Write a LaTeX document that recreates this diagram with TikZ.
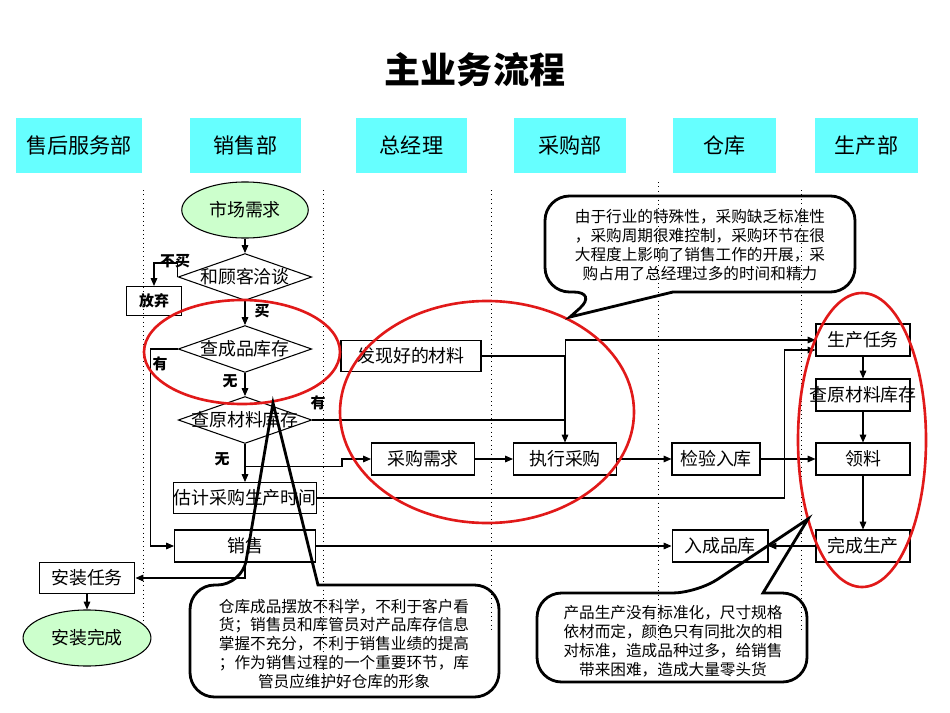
\documentclass[tikz,border=0pt]{standalone}
\usepackage{fontspec}
\setmainfont{Noto Sans CJK SC}
\usepackage{tikz}
\usetikzlibrary{shapes.geometric, arrows.meta, calc, positioning}
\usepackage{xcolor}
\definecolor{ciano}{RGB}{102,255,255}
\definecolor{verdino}{RGB}{204,255,204}
\definecolor{rosso}{RGB}{225,25,25}

\begin{document}
\begin{tikzpicture}[x=0.02cm, y=-0.02cm,
    testo/.style={font=\fontsize{10.2}{12}\selectfont},
    reparto/.style={fill=ciano, minimum height=31.3pt, inner sep=0pt, font=\fontsize{12}{14}\selectfont},
    scatola/.style={draw, line width=0.6pt, minimum width=53.5pt, minimum height=18.2pt, inner sep=0pt, testo},
    rombo/.style={draw, line width=0.6pt, diamond, minimum width=76pt, minimum height=26.7pt, inner sep=0pt, testo},
    ovale/.style={draw, line width=0.6pt, ellipse, fill=verdino, minimum width=72pt, minimum height=31.9pt, inner sep=0pt, testo},
    etich/.style={font=\fontsize{8.5}{10}\selectfont\bfseries, inner sep=0pt},
    freccia/.style={-{Triangle[length=4.5pt,width=3.8pt]}, line width=0.6pt},
    fumetto/.style={line width=1.6pt, rounded corners=14pt},
    nota/.style={align=center, font=\fontsize{8.9}{10.8}\selectfont, inner sep=0pt},
    cerchio/.style={draw=rosso, line width=1.5pt}]
    \useasboundingbox (0,0) rectangle (950,713);
    % Parametri (colonne)
    \pgfmathsetmacro{\xv}{245}
    \pgfmathsetmacro{\xp}{863}
    % Titolo e reparti
    \node[font=\fontsize{20.5}{24}\selectfont\bfseries] (titolo) at (475,70) {主业务流程};
    \node[reparto, minimum width=71.7pt] (h1) at (79,145.5) {售后服务部};
    \node[reparto, minimum width=63.2pt] (h2) at (245.5,145.5) {销售部};
    \node[reparto, minimum width=63.2pt] (h3) at (411.5,145.5) {总经理};
    \node[reparto, minimum width=63.7pt] (h4) at (570,145.5) {采购部};
    \node[reparto, minimum width=58.6pt] (h5) at (724.5,145.5) {仓库};
    \node[reparto, minimum width=58.6pt] (h6) at (866.5,145.5) {生产部};
    % Corsie
    \foreach \x/\ya/\yb in {143/190/623, 323/190/690, 491/190/630, 658/182/640, 801/190/630} {
        \draw[dotted, line width=0.5pt] (\x,\ya) -- (\x,\yb);
    }
    % Vendite
    \node[ovale] (shichang) at (\xv,210) {市场需求};
    \node[rombo] (qiatan) at (\xv,277) {\makebox[0pt]{和顾客洽谈}};
    \node[scatola, minimum width=31.3pt, minimum height=16.5pt, font=\fontsize{8.5}{10}\selectfont\bfseries] (fangqi) at (154,301) {放弃};
    \node[rombo] (chacp) at (\xv,349) {\makebox[0pt]{查成品库存}};
    \node[rombo] (chayl) at (\xv,420) {\makebox[0pt]{查原材料库存}};
    \node[scatola, minimum width=80.2pt, minimum height=17.6pt] (guji) at (\xv,498) {估计采购生产时间};
    \node[scatola, minimum width=80.2pt] (xiaoshou) at (\xv,546) {销售};
    % Assistenza
    \node[scatola, minimum width=54.6pt, minimum height=17.6pt] (anzhuang) at (87,578) {安装任务};
    \node[ovale, minimum width=72.8pt] (wancheng) at (87,638) {安装完成};
    % Direzione, acquisti, magazzino
    \node[scatola, minimum width=79.7pt, minimum height=17.6pt] (faxian) at (411,356) {发现好的材料};
    \node[scatola, minimum width=58.6pt] (xuqiu) at (423,459) {采购需求};
    \node[scatola, minimum width=58.6pt] (zhixing) at (565,459) {执行采购};
    \node[scatola, minimum width=50.1pt] (jianyan) at (716,459) {检验入库};
    \node[scatola, minimum width=54.6pt] (rucp) at (720,546) {入成品库};
    % Produzione
    \node[scatola] (renwu) at (\xp,340) {生产任务};
    \node[scatola] (chayl2) at (\xp,395) {\makebox[0pt]{查原材料库存}};
    \node[scatola] (lingliao) at (\xp,459) {领料};
    \node[scatola] (wansc) at (\xp,546) {完成生产};
    % Etichette
    \node[etich] (lbm) at (175,261) {不买};
    \node[etich] (lm) at (262,311) {买};
    \node[etich] (ly1) at (160,364) {有};
    \node[etich] (lw1) at (230,381) {无};
    \node[etich] (ly2) at (318,403) {有};
    \node[etich] (lw2) at (222,459) {无};
    % Frecce
    \draw[freccia] (shichang.south) -- (qiatan.north);
    \draw[freccia] (qiatan.west) -- ++(0,-14) -| (fangqi.north);
    \draw[freccia] (qiatan.south) -- (chacp.north);
    \draw[freccia] (chacp.west) -- ++(-27,0) |- (xiaoshou.west);
    \draw[freccia] (chacp.south) -- (chayl.north);
    \draw[freccia] (chayl.east) -- ++(253.5,0) |- (renwu.west);
    \draw[freccia] (faxian.east) -| (zhixing.north);
    \draw[freccia] (chayl.south) -- (guji.north);
    \draw[freccia] ($(chayl.south)!0.58!(guji.north)$) -- ++(97,0) |- (xuqiu.west);
    \draw[freccia] (xuqiu) -- (zhixing);
    \draw[freccia] (zhixing) -- (jianyan);
    \draw[freccia] (jianyan) -- (lingliao);
    \draw[freccia] (guji.east) -- ++(467.5,0) |- ([yshift=-5.7pt]renwu.west);
    \draw[freccia] (renwu) -- (chayl2);
    \draw[freccia] (chayl2) -- (lingliao);
    \draw[freccia] (lingliao) -- (wansc);
    \draw[freccia] (wansc) -- (rucp);
    \draw[freccia] (xiaoshou.east) -- (rucp.west);
    \draw[freccia] (xiaoshou.south) |- (anzhuang.east);
    \draw[freccia] (anzhuang) -- (wancheng);
    % Ellissi rosse
    \draw[cerchio] (242,352) ellipse [x radius=98, y radius=52];
    \draw[cerchio] (487,412) ellipse [x radius=147, y radius=111];
    \draw[cerchio] (862,440) ellipse [x radius=64, y radius=147];
    % Fumetti
    \draw[fumetto] (673,292) -- (855,292) -- (855,196) -- (545,196) -- (545,292) -- (598,292) [sharp corners] -- (570,317) -- cycle;
    \node[nota] (nota1) at (700,245) {由于行业的特殊性，采购缺乏标准性\\，采购周期很难控制，采购环节在很\\大程度上影响了销售工作的开展，采\\购占用了总经理过多的时间和精力};
    \draw[fumetto] (318,585) -- (499,585) -- (499,697) -- (190,697) -- (190,585) -- (242,585) [sharp corners] -- (273,403) -- cycle;
    \node[nota] (nota2) at (344,644) {仓库成品摆放不科学，不利于客户看\\货；销售员和库管员对产品库存信息\\掌握不充分，不利于销售业绩的提高\\；作为销售过程的一个重要环节，库\\管员应维护好仓库的形象};
    \draw[fumetto] (763,593) -- (807,593) -- (807,682) -- (537,682) -- (537,593) -- (697,593) [sharp corners] -- (808,519) -- cycle;
    \node[nota] (nota3) at (673,641) {产品生产没有标准化，尺寸规格\\依材而定，颜色只有同批次的相\\对标准，造成品种过多，给销售\\带来困难，造成大量零头货};
\end{tikzpicture}
\end{document}
